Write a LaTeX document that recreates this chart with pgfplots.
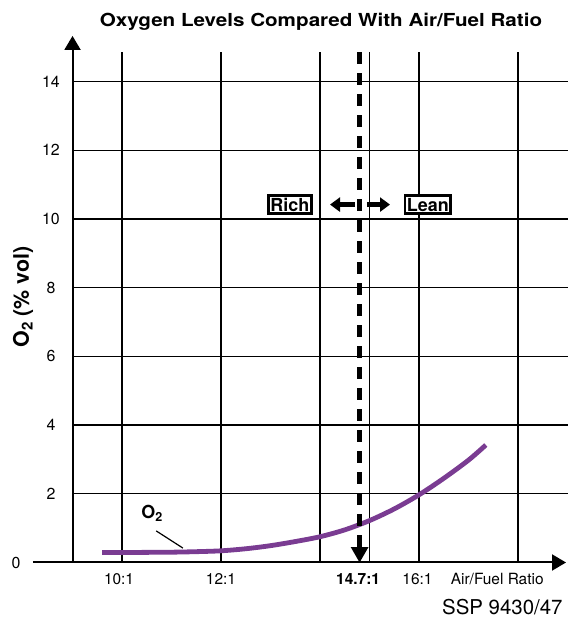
\documentclass[border=0pt]{standalone}
\usepackage{pgfplots}
\pgfplotsset{compat=1.18}
\usepackage{graphicx}
\usepackage{fontspec}
\setmainfont{TeX Gyre Heros}
\usetikzlibrary{arrows.meta}
\definecolor{otwo}{RGB}{122,60,146}
\begin{document}
\begin{tikzpicture}
\begin{axis}[x=49.5bp, y=34.35bp, xmin=7.535, xmax=19.01, ymin=-1.645, ymax=16.376,
  hide axis, clip=false]
% bounding box
\path (axis cs:7.535,-1.645) rectangle (axis cs:19.01,16.376);
% grid
\foreach \yy in {2,4,...,14} {
  \edef\tmp{\noexpand\draw[line width=1.4bp] (axis cs:9,\yy) -- (axis cs:19.01,\yy);}\tmp
}
\foreach \xx in {10,12,14,15,16,18} {
  \edef\tmp{\noexpand\draw[line width=1.4bp] (axis cs:\xx,0) -- (axis cs:\xx,14.86);}\tmp
}
% axes
\draw[line width=2bp, -{Triangle[length=14bp,width=16bp]}] (axis cs:9,0) -- (axis cs:9,15.33);
\draw[line width=2bp, -{Triangle[length=14bp,width=16bp]}] (axis cs:8.2,0) -- (axis cs:18.97,0);
% curve
\addplot[otwo, line width=4.8bp, smooth, tension=0.5] coordinates {
 (9.6,0.29) (10,0.29) (10.5,0.295) (11,0.30) (11.5,0.315) (12,0.34) (12.5,0.40) (13,0.49) (13.5,0.61)
 (14,0.75) (14.5,0.95) (15,1.22) (15.5,1.56) (16,1.97) (16.5,2.45) (17,2.98) (17.35,3.42)
};
% dashed stoichiometric line
\draw[line width=5bp, dash pattern=on 12bp off 9bp] (axis cs:14.8,14.86) -- (axis cs:14.8,0.45);
\fill (axis cs:14.62,0.45) -- (axis cs:14.98,0.45) -- (axis cs:14.8,0) -- cycle;
% rich / lean
\draw[line width=5bp, -{Triangle[length=10bp,width=14bp]}] (axis cs:14.707,10.42) -- (axis cs:14.202,10.42);
\draw[line width=5bp, -{Triangle[length=10bp,width=14bp]}] (axis cs:14.949,10.42) -- (axis cs:15.414,10.42);
\node[draw, line width=2.8bp, fill=white, inner xsep=2bp, inner ysep=2.5bp, font=\fontsize{18}{18}\selectfont\bfseries] at (axis cs:13.39,10.42) {Rich};
\node[draw, line width=2.8bp, fill=white, inner xsep=2bp, inner ysep=2.5bp, font=\fontsize{18}{18}\selectfont\bfseries] at (axis cs:16.18,10.42) {Lean};
% O2 label
\node[font=\fontsize{18}{18}\selectfont\bfseries] at (axis cs:10.61,1.44) {O\textsubscript{2}};
\draw[line width=1.2bp] (axis cs:10.69,0.92) -- (axis cs:11.23,0.42);
% y tick labels
\foreach \yy in {2,4,...,14} {
  \edef\tmp{\noexpand\node[font=\noexpand\fontsize{16}{16}\noexpand\selectfont] at (axis cs:8.565,\yy) {\yy};}\tmp
}
\node[font=\fontsize{16}{16}\selectfont] at (axis cs:7.86,0.0) {0};
% x tick labels
\node[font=\fontsize{15.5}{15.5}\selectfont] at (axis cs:9.94,-0.48) {10:1};
\node[font=\fontsize{15.5}{15.5}\selectfont] at (axis cs:12,-0.48) {12:1};
\node[font=\fontsize{15.5}{15.5}\selectfont\bfseries] at (axis cs:14.77,-0.48) {14.7:1};
\node[font=\fontsize{15.5}{15.5}\selectfont] at (axis cs:15.97,-0.48) {16:1};
\node[font=\fontsize{15.5}{15.5}\selectfont] at (axis cs:17.58,-0.48) {Air/Fuel Ratio};
% y label
\node[rotate=90, font=\fontsize{21.5}{21.5}\selectfont\bfseries] at (axis cs:8.0,7.73) {O\textsubscript{2} (\% vol)};
% title
\node[font=\fontsize{18}{18}\selectfont\bfseries] at (axis cs:14.02,15.74) {\scalebox{1.15}[1]{Oxygen Levels Compared With Air/Fuel Ratio}};
% source
\node[anchor=east, font=\fontsize{20.5}{20.5}\selectfont] at (axis cs:18.97,-1.30) {SSP 9430/47};
\end{axis}
\end{tikzpicture}
\end{document}
